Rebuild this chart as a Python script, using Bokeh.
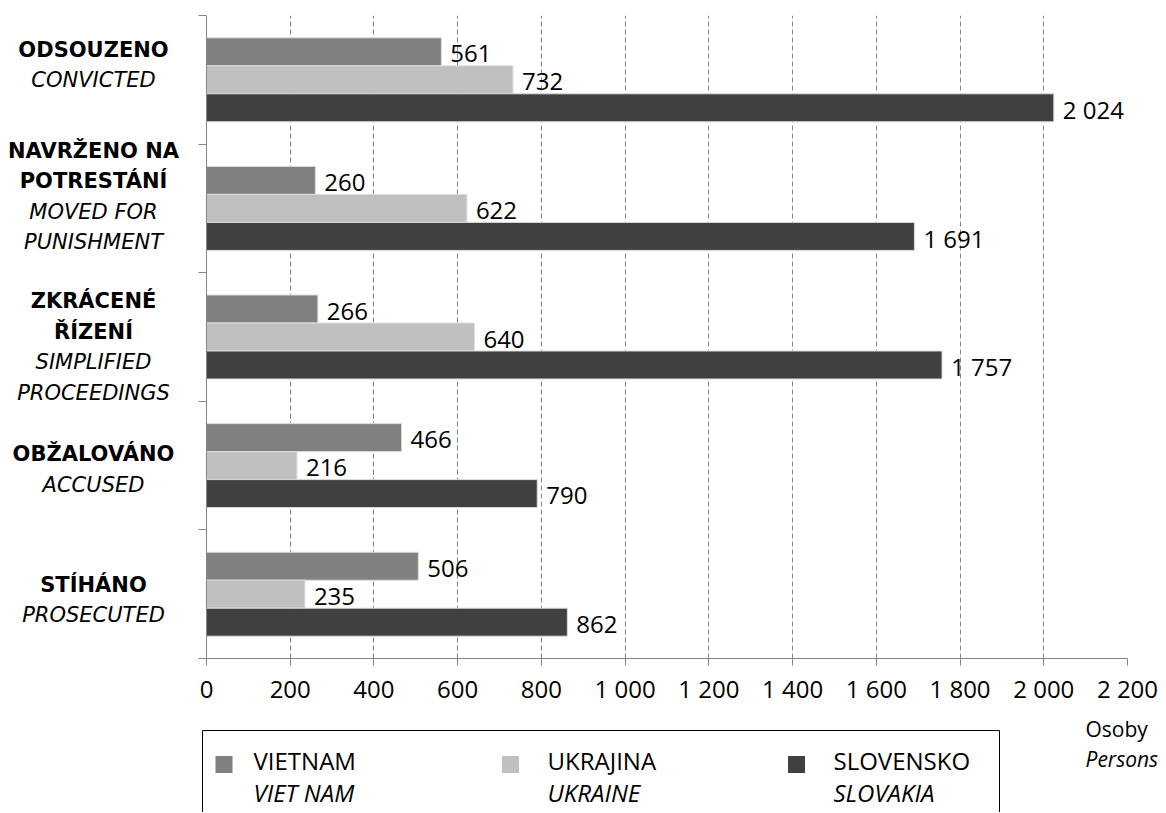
from bokeh.plotting import figure
from bokeh.layouts import row, column
from bokeh.models import Range1d, FixedTicker, ColumnDataSource, CustomJSTickFormatter
from bokeh.core.properties import value
from bokeh.embed import file_html
from bokeh.resources import INLINE

# ---------------- data ----------------
cats_cz = [["ODSOUZENO"], ["NAVRŽENO NA", "POTRESTÁNÍ"], ["ZKRÁCENÉ", "ŘÍZENÍ"],
           ["OBŽALOVÁNO"], ["STÍHÁNO"]]
cats_en = [["CONVICTED"], ["MOVED FOR", "PUNISHMENT"], ["SIMPLIFIED", "PROCEEDINGS"],
           ["ACCUSED"], ["PROSECUTED"]]
series_cz = ["VIETNAM", "UKRAJINA", "SLOVENSKO"]
series_en = ["VIET NAM", "UKRAINE", "SLOVAKIA"]
vietnam = [561, 260, 266, 466, 506]
ukrajina = [732, 622, 640, 216, 235]
slovensko = [2024, 1691, 1757, 790, 862]
x_ticks = [0, 200, 400, 600, 800, 1000, 1200, 1400, 1600, 1800, 2000, 2200]
unit_cz = "Osoby"
unit_en = "Persons"

# ---------------- style / layout ----------------
colors = ["#808080", "#c0c0c0", "#404040"]
axis_col = "#868686"
W = 1166
W_LEFT = 188
TOP_H = 712
LEG_H = 100
BT, BB = 15, 54           # top / bottom borders of the chart row
M_BL, M_BR = 18, 39       # left / right borders of the main chart
bar_h = 0.2177
line_gap = 30.5
block_shift = [-15, -12, 10, 4, 6]   # px, downward nudges of category label blocks
fnt_num = "Open Sans"
fnt_cat = "DejaVu Sans"


def fmt(v):
    return f"{v:,}".replace(",", " ")


n = len(cats_cz)
ypos = [n - 1 - i for i in range(n)]
y_range = Range1d(-0.5, n - 0.5)

# ---------------- main chart ----------------
p = figure(width=W - W_LEFT, height=TOP_H, output_backend="svg", toolbar_location=None,
           x_range=Range1d(0, x_ticks[-1]), y_range=y_range,
           min_border_left=M_BL, min_border_right=M_BR, min_border_top=BT, min_border_bottom=BB)
p.outline_line_color = None
p.background_fill_color = "white"
p.border_fill_color = "white"

series = [vietnam, ukrajina, slovensko]
offs = [bar_h, 0.0, -bar_h]
for vals, col, off in zip(series, colors, offs):
    src = ColumnDataSource(dict(y=[y + off for y in ypos], v=vals, lbl=[fmt(v) for v in vals]))
    p.hbar(y="y", left=0, right="v", height=bar_h, source=src,
           fill_color=col, line_color="#dcdcdc", line_width=1)
    p.text(x="v", y="y", text="lbl", source=src, x_offset=9, y_offset=2,
           text_baseline="middle", text_align="left",
           text_font=value(fnt_num), text_font_size="24px", text_color="black")

p.xaxis.ticker = FixedTicker(ticks=x_ticks)
p.xaxis.major_label_overrides = {t: fmt(t) for t in x_ticks}
p.xaxis.major_label_text_font = fnt_num
p.xaxis.major_label_text_font_size = "24px"
p.xaxis.major_label_text_color = "black"
p.xaxis.major_label_standoff = 6
p.xaxis.major_tick_out = 7
p.xaxis.major_tick_in = 0
p.xaxis.minor_tick_line_color = None
p.xaxis.axis_line_color = axis_col
p.xaxis.major_tick_line_color = axis_col

p.yaxis.ticker = FixedTicker(ticks=[k - 0.5 for k in range(n + 1)])
p.yaxis.formatter = CustomJSTickFormatter(code="return ''")
p.yaxis.major_tick_out = 8
p.yaxis.major_tick_in = 0
p.yaxis.minor_tick_line_color = None
p.yaxis.axis_line_color = axis_col
p.yaxis.major_tick_line_color = axis_col

p.xgrid.ticker = FixedTicker(ticks=x_ticks[1:])
p.xgrid.grid_line_color = axis_col
p.xgrid.grid_line_dash = "5 3"
p.ygrid.grid_line_color = None

# ---------------- category labels (left panel) ----------------
lp = figure(width=W_LEFT, height=TOP_H, output_backend="svg", toolbar_location=None,
            x_range=Range1d(0, W_LEFT), y_range=y_range,
            x_axis_type=None, y_axis_type=None,
            min_border_left=0, min_border_right=0, min_border_top=BT, min_border_bottom=BB)
lp.outline_line_color = None
lp.xgrid.grid_line_color = None
lp.ygrid.grid_line_color = None

for style in ("bold", "italic"):
    xs, ys, txt, dy = [], [], [], []
    for i in range(n):
        lines = [(t, "bold") for t in cats_cz[i]] + [(t, "italic") for t in cats_en[i]]
        m = len(lines)
        for k, (t, st) in enumerate(lines):
            if st != style:
                continue
            xs.append(93)
            ys.append(ypos[i])
            txt.append(t)
            dy.append(block_shift[i] + (k - (m - 1) / 2) * line_gap)
    src = ColumnDataSource(dict(x=xs, y=ys, t=txt, dy=dy))
    lp.text(x="x", y="y", text="t", y_offset="dy", source=src,
            text_align="center", text_baseline="middle",
            text_font=value(fnt_cat), text_font_size="21px", text_font_style=style,
            text_color="black")

# ---------------- legend (bottom panel) ----------------
lg = figure(width=W, height=LEG_H, output_backend="svg", toolbar_location=None,
            x_range=Range1d(0, W), y_range=Range1d(LEG_H, 0),
            x_axis_type=None, y_axis_type=None, min_border=0)
lg.outline_line_color = None
lg.xgrid.grid_line_color = None
lg.ygrid.grid_line_color = None

lg.quad(left=[202], right=[999], top=[18], bottom=[LEG_H + 20],
        fill_color=None, line_color="black", line_width=1)
mk_x = [223.5, 510, 796]
tx_x = [253, 547, 833]
lg.rect(x=mk_x, y=[52] * 3, width=17, height=17, fill_color=colors, line_color=None)
lg.text(x=tx_x, y=[48] * 3, text=series_cz, text_align="left", text_baseline="middle",
        text_font=value(fnt_num), text_font_size="24px", text_color="black")
lg.text(x=tx_x, y=[80] * 3, text=series_en, text_align="left", text_baseline="middle",
        text_font=value(fnt_num), text_font_size="24px", text_font_style="italic",
        text_color="black")
lg.text(x=[1085], y=[16], text=[unit_cz], text_align="left", text_baseline="middle",
        text_font=value(fnt_num), text_font_size="21px", text_color="black")
lg.text(x=[1085], y=[46], text=[unit_en], text_align="left", text_baseline="middle",
        text_font=value(fnt_num), text_font_size="21px", text_font_style="italic",
        text_color="black")

layout = column(row(lp, p), lg)
open("out.html", "w").write(file_html(layout, INLINE))
